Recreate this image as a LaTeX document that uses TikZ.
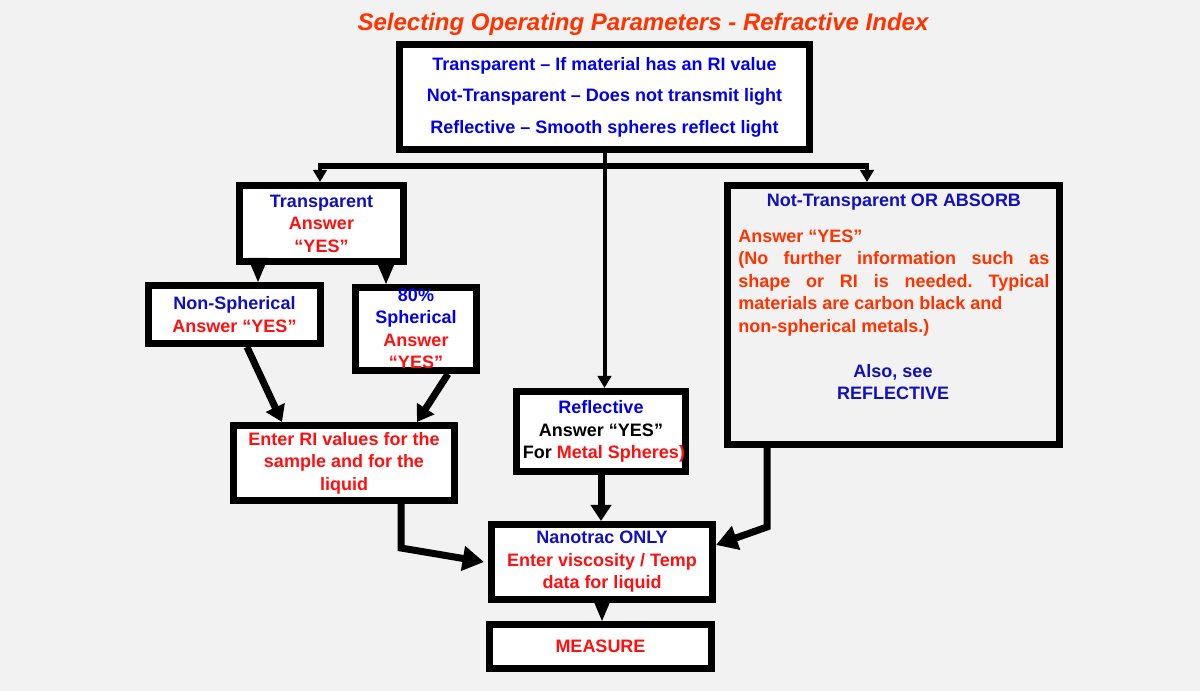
\documentclass[tikz,border=0pt]{standalone}
\usepackage{fontspec}
\setmainfont{Liberation Sans}
\usetikzlibrary{arrows.meta}
\definecolor{bg}{HTML}{F2F2F2}
\definecolor{bb}{HTML}{0000EE}
\definecolor{bd}{HTML}{1111BB}
\definecolor{rd}{HTML}{FF1010}
\definecolor{ro}{HTML}{FF3300}
\newcommand\boxfont{\fontsize{13.5}{16.9}\selectfont\bfseries}
\newcommand\topfont{\fontsize{13.5}{23.6}\selectfont\bfseries}
\frenchspacing
\begin{document}
\begin{tikzpicture}[x=0.75pt,y=-0.75pt,
  box/.style={draw=black,line width=5.25pt,fill=white,align=center,inner sep=0pt,font=\boxfont},
  txt/.style={inner sep=0pt,font=\boxfont},
  thinarr/.style={line width=3pt,-{Triangle[length=9pt,width=10pt]}},
  thickarr/.style={line width=5.25pt,-{Triangle[length=12pt,width=15pt]}},
  bigarr/.style={line width=5.25pt,-{Triangle[length=16pt,width=18pt]}},
  tri/.style={line width=1pt,-{Triangle[length=18pt,width=15pt]}}]
\useasboundingbox (0,0) rectangle (1200,691);
\fill[bg] (0,0) rectangle (1200,691);

\node[anchor=base,inner sep=0pt,text=ro,font=\fontsize{18}{22}\selectfont\bfseries\itshape] (title) at (643,31) {Selecting Operating Parameters - Refractive Index};

\node[box,minimum width=307.5pt,minimum height=78.75pt,font=\topfont,text=bb] (top) at (604.5,97)
  {Transparent – If material has an RI value\\Not-Transparent – Does not transmit light\\Reflective – Smooth spheres reflect light};

\node[box,minimum width=123pt,minimum height=57pt] (trans) at (321.5,223.5)
  {{\color{bd}Transparent}\\{\color{rd}Answer}\\{\color{rd}“YES”}};
\node[box,minimum width=129pt,minimum height=43.5pt] (nonsph) at (234.5,314.5)
  {{\color{bd}Non-Spherical}\\{\color{rd}Answer “YES”}};
\node[box,minimum width=90.75pt,minimum height=62.25pt] (sph) at (416,329)
  {{\color{bb}80\%}\\{\color{bb}Spherical}\\{\color{rd}Answer}\\{\color{rd}“YES”}};
\node[box,minimum width=165.75pt,minimum height=56.25pt,text=rd] (enterri) at (344,463)
  {Enter RI values for the\\sample and for the\\liquid};
\node[box,minimum width=123.75pt,minimum height=60pt] (refl) at (601,431.5)
  {{\color{bb}Reflective}\\Answer “YES”\\\kern4.5pt For {\color{rd}Metal Spheres)}};
\node[box,fill=bg,minimum width=249pt,minimum height=194.25pt] (nt) at (893.5,315) {};
\node[txt,text=bd] (nthead) at (894,202) {Not-Transparent OR ABSORB};
\node[txt,anchor=north west,align=left,text=ro] (ntpara) at (738,229.5)
  {Answer “YES”\\
   \makebox[233.25pt][s]{(No further information such as}\\
   \makebox[233.25pt][s]{shape or RI is needed. Typical}\\
   materials are carbon black and\\
   non-spherical metals.)};
\node[txt,align=center,text=bd] (ntsee) at (893,382) {Also, see\\REFLECTIVE};
\node[box,minimum width=165.75pt,minimum height=56.25pt] (nano) at (602,562)
  {{\color{bd}Nanotrac ONLY}\\{\color{rd}Enter viscosity / Temp}\\{\color{rd}data for liquid}};
\node[box,minimum width=166.5pt,minimum height=33pt,text=rd] (meas) at (600.5,646.5) {MEASURE};

% distribution bar
\coordinate (bl) at (320,166);
\coordinate (br) at (867,166);
\draw[line width=3pt] (top.south) -- (top.south |- bl);
\draw[line width=4.5pt] ([xshift=-1.5pt]bl) -- ([xshift=1.5pt]br);
\draw[thinarr] (bl) -- (bl |- trans.north);
\draw[thinarr] (br) -- (br |- nt.north);
\draw[thinarr] (top.south |- bl) -- (top.south |- refl.north);

% transparent branch
\draw[tri] (258,0 |- trans.south) -- (258,0 |- nonsph.north);
\draw[tri] (386,0 |- trans.south) -- (386,0 |- sph.north);
\draw[thickarr] (247,0 |- nonsph.south) -- (282,0 |- enterri.north);
\draw[thickarr] (448,0 |- sph.south) -- (417,0 |- enterri.north);

% to nanotrac
\coordinate (ribend) at (401,548);
\draw[bigarr,line join=miter] (401,0 |- enterri.south) -- (ribend) -- ([xshift=-3pt]nano.west);
\draw[thickarr] (refl.south) -- (refl.south |- nano.north);
\coordinate (ntbend) at (767,527);
\draw[bigarr,line join=miter] (767,0 |- nt.south) -- (ntbend) -- (nano.east |- 0,545);
\draw[tri] (nano.south) -- (nano.south |- meas.north);
\end{tikzpicture}
\end{document}
